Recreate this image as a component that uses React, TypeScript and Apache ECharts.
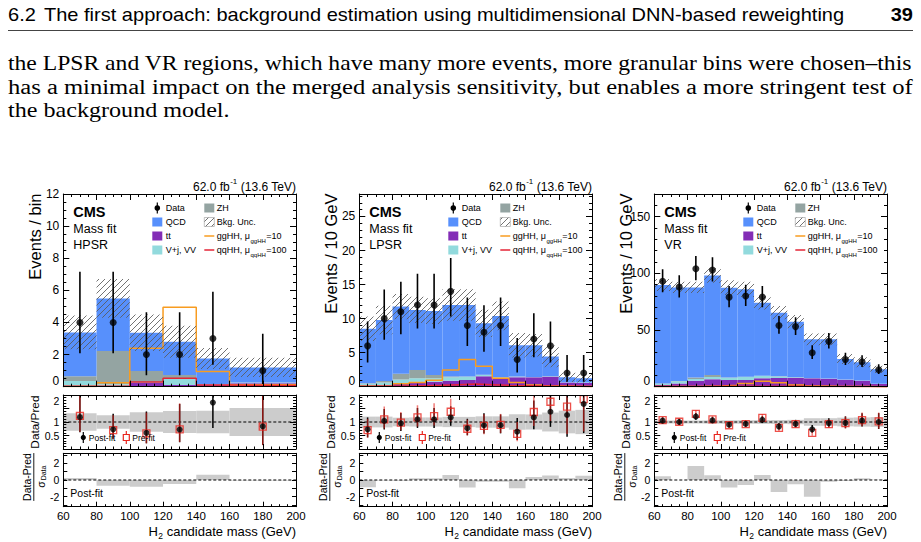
import React, { useEffect, useRef } from "react";
import * as echarts from "echarts";

// ---------------- data ----------------
const hpsrEdges = [60, 80, 100, 120, 140, 160, 200];
const hpsrCenters = [70, 90, 110, 130, 150, 180];
const fineEdges = [60, 70, 80, 90, 100, 110, 120, 130, 140, 150, 160, 170, 180, 190, 200];
const fineCenters = [65, 75, 85, 95, 105, 115, 125, 135, 145, 155, 165, 175, 185, 195];

// HPSR
const hpsrTtbar = [0.05, 0.05, 0.25, 0.1, 0.1, 0.22];
const hpsrVjVV = [0.3, 0.1, 0.05, 0.4, 0.02, 0.02];
const hpsrZH = [0.3, 2.07, 0.67, 0.23, 0.03, 0.02];
const hpsrQCD = [2.73, 3.28, 2.39, 2.07, 1.61, 0.94];
const hpsrUnc = [1.05, 1.2, 1.14, 1.0, 0.65, 0.6];
const hpsrGGHH = [0.02, 0.25, 2.4, 4.94, 0.95, 0.12];
const hpsrQQHH = [0.03, 0.05, 0.3, 0.52, 0.1, 0.08];
const hpsrData = [4, 4, 2, 2, 3, 1];
const hpsrDataLo = [2.09, 2.09, 0.71, 0.71, 1.37, 0.17];
const hpsrDataHi = [7.16, 7.16, 4.64, 4.64, 5.92, 3.3];
const hpsrRatioPost = [1.18, 0.73, 0.6, 0.72, 1.72, 0.84];
const hpsrRatioPostLo = [0.62, 0.38, 0.21, 0.25, 0.78, 0.15];
const hpsrRatioPostHi = [2.11, 1.31, 1.39, 1.67, 3.39, 2.77];
const hpsrRatioPre = [1.23, 0.7, 0.58, 0.73, null, 0.83];
const hpsrRatioPreLo = [0.64, 0.37, 0.21, 0.26, null, 0.14];
const hpsrRatioPreHi = [2.2, 1.25, 1.35, 1.69, null, 2.74];
const hpsrBand = [0.32, 0.25, 0.36, 0.41, 0.42, 0.52];
const hpsrPull = [0.25, -0.68, -0.8, -0.48, 0.64, -0.05];

// LPSR
const lpsrTtbar = [0.15, 0.2, 0.4, 0.74, 0.74, 0.88, 1.0, 1.55, 1.3, 1.37, 1.37, 1.45, 0.6, 0.55];
const lpsrVjVV = [0.3, 0.4, 0.65, 0.5, 0.49, 0.5, 0.45, 0.15, 0.1, 0.1, 0.05, 0.05, 0.05, 0.05];
const lpsrZH = [0.05, 0.25, 0.85, 1.22, 0.49, 0.1, 0.05, 0.05, 0.03, 0.02, 0.02, 0.02, 0.01, 0.01];
const lpsrQCD = [8.0, 8.95, 9.86, 8.81, 9.38, 10.52, 10.5, 7.55, 8.97, 4.61, 4.66, 2.93, 0.74, 0.64];
const lpsrUnc = [1.8, 2.1, 1.84, 1.93, 1.9, 2.3, 2.3, 2.0, 2.1, 1.8, 1.65, 1.6, 0.7, 0.65];
const lpsrGGHH = [0.05, 0.12, 0.45, 0.6, 0.95, 2.45, 4.0, 3.0, 1.25, 0.6, 0.25, 0.1, 0.05, 0.03];
const lpsrQQHH = [0.05, 0.05, 0.1, 0.15, 0.2, 0.3, 0.4, 0.3, 0.2, 0.15, 0.1, 0.05, 0.05, 0.03];
const lpsrData = [6, 10, 11, 12, 12, 14, 9, 8, 9, 4, 7, 6, 2, 2];
const lpsrDataLo = [3.57, 6.89, 7.7, 8.55, 8.55, 10.3, 5.96, 5.15, 5.96, 2.09, 4.34, 3.57, 0.71, 0.71];
const lpsrDataHi = [9.58, 14.27, 15.4, 16.6, 16.6, 18.9, 13.1, 11.98, 13.1, 7.16, 10.77, 9.58, 4.64, 4.64];
const lpsrRatioPost = [0.73, 1.04, 0.95, 1.1, 1.1, 1.17, 0.77, 0.88, 0.88, 0.64, 1.17, 1.38, 1.26, 1.67];
const lpsrRatioPostLo = [0.43, 0.72, 0.67, 0.78, 0.78, 0.86, 0.51, 0.57, 0.58, 0.33, 0.73, 0.82, 0.45, 0.59];
const lpsrRatioPostHi = [1.17, 1.48, 1.33, 1.52, 1.52, 1.58, 1.12, 1.32, 1.28, 1.15, 1.8, 2.2, 2.92, 3.87];
const lpsrRatioPre = [0.7, 1.1, 0.98, 1.17, 1.22, 1.38, 0.75, 0.86, 0.89, 0.56, 1.37, 1.75, 1.57, 1.85];
const lpsrRatioPreLo = [0.42, 0.76, 0.69, 0.83, 0.87, 1.02, 0.5, 0.55, 0.59, 0.29, 0.85, 1.04, 0.56, 0.65];
const lpsrRatioPreHi = [1.12, 1.57, 1.37, 1.62, 1.69, 1.86, 1.09, 1.29, 1.3, 1.0, 2.11, 2.79, 3.64, 4.29];
const lpsrBand = [0.2, 0.2, 0.16, 0.17, 0.17, 0.19, 0.19, 0.21, 0.21, 0.29, 0.28, 0.35, 0.42, 0.45];
const lpsrPull = [-0.88, -0.05, -0.1, 0.2, 0.2, 0.6, -0.9, -0.2, -0.2, -1.0, 0.35, 0.55, 0.25, 0.5];

// VR
const vrTtbar = [1.5, 2.9, 5.3, 6.5, 5.9, 5.9, 7.4, 7.6, 7.6, 7.4, 7.0, 6.2, 5.3, 2.4];
const vrVjVV = [1.2, 2.0, 1.5, 2.0, 2.0, 2.6, 2.2, 1.5, 0.6, 0.3, 0.2, 0.1, 0.1, 0.1];
const vrZH = [0.2, 0.1, 1.4, 1.8, 0.3, 0.3, 0.1, 0.1, 0.1, 0.05, 0.05, 0.05, 0.05, 0.05];
const vrQCD = [86.8, 82.6, 79.4, 87.7, 79.2, 77.1, 64.4, 56.1, 49.1, 34.05, 34.55, 18.05, 16.05, 12.75];
const vrUnc = [5.3, 5.0, 5.0, 6.4, 6.6, 6.7, 5.9, 5.9, 5.8, 5.2, 5.2, 4.4, 4.4, 3.2];
const vrGGHH = [0.1, 0.2, 0.4, 0.7, 1.2, 2.8, 4.8, 3.5, 1.5, 0.6, 0.3, 0.15, 0.1, 0.05];
const vrQQHH = [0.1, 0.15, 0.2, 0.3, 0.3, 0.4, 0.5, 0.4, 0.3, 0.2, 0.15, 0.1, 0.1, 0.05];
const vrData = [93, 88, 104, 103, 79, 80, 79, 54, 53, 30, 40, 24, 22, 15];
const vrDataLo = [83.4, 78.6, 93.8, 92.9, 70.1, 71.1, 70.1, 46.7, 45.7, 24.5, 33.7, 19.1, 17.3, 11.1];
const vrDataHi = [103.6, 98.4, 115.2, 114.2, 88.9, 89.9, 88.9, 62.4, 61.3, 36.5, 47.3, 29.9, 27.7, 19.9];
const vrRatioPost = [1.05, 1.0, 1.2, 1.06, 0.9, 0.93, 1.08, 0.83, 0.93, 0.73, 0.96, 0.97, 1.05, 1.0];
const vrRatioPostLo = [0.94, 0.89, 1.08, 0.96, 0.8, 0.83, 0.96, 0.72, 0.8, 0.6, 0.81, 0.77, 0.83, 0.74];
const vrRatioPostHi = [1.17, 1.12, 1.33, 1.18, 1.01, 1.05, 1.22, 0.96, 1.08, 0.89, 1.14, 1.21, 1.32, 1.33];
const vrRatioPre = [1.07, 1.01, 1.3, 1.1, 0.88, 0.92, 1.15, 0.78, 0.92, 0.6, 0.92, 0.96, 1.07, 1.02];
const vrRatioPreLo = [0.96, 0.9, 1.17, 0.99, 0.78, 0.82, 1.02, 0.67, 0.79, 0.49, 0.78, 0.76, 0.84, 0.75];
const vrRatioPreHi = [1.19, 1.13, 1.44, 1.22, 0.99, 1.03, 1.29, 0.9, 1.06, 0.73, 1.09, 1.2, 1.35, 1.35];
const vrBand = [0.055, 0.055, 0.055, 0.06, 0.065, 0.065, 0.07, 0.075, 0.08, 0.14, 0.14, 0.16, 0.17, 0.18];
const vrPull = [0.45, 0.0, 1.68, 0.56, -0.9, -0.6, 0.6, -1.44, -0.5, -2.0, -0.2, -0.12, 0.2, 0.02];

const pullTicks = [-3, -2, -1, 0, 1, 2, 3];
const pullLabels = [-2, 0, 2];

const headerText = "The first approach: background estimation using multidimensional DNN-based reweighting";
const paraLines = [
  "the LPSR and VR regions, which have many more events, more granular bins were chosen\u2013this",
  "has a minimal impact on the merged analysis sensitivity, but enables a more stringent test of",
  "the background model.",
];

const panels = [
  {
    region: "HPSR", ytitle: "Events / bin", ymax: 12, yint: 2, yminor: 4, showMax: true,
    edges: hpsrEdges, centers: hpsrCenters, tt: hpsrTtbar, vj: hpsrVjVV, zh: hpsrZH, qcd: hpsrQCD,
    unc: hpsrUnc, gg: hpsrGGHH, qq: hpsrQQHH, data: hpsrData, dlo: hpsrDataLo, dhi: hpsrDataHi,
    rPost: hpsrRatioPost, rPostLo: hpsrRatioPostLo, rPostHi: hpsrRatioPostHi,
    rPre: hpsrRatioPre, rPreLo: hpsrRatioPreLo, rPreHi: hpsrRatioPreHi, band: hpsrBand, pull: hpsrPull,
  },
  {
    region: "LPSR", ytitle: "Events / 10 GeV", ymax: 28.3, yint: 5, yminor: 5, showMax: false,
    edges: fineEdges, centers: fineCenters, tt: lpsrTtbar, vj: lpsrVjVV, zh: lpsrZH, qcd: lpsrQCD,
    unc: lpsrUnc, gg: lpsrGGHH, qq: lpsrQQHH, data: lpsrData, dlo: lpsrDataLo, dhi: lpsrDataHi,
    rPost: lpsrRatioPost, rPostLo: lpsrRatioPostLo, rPostHi: lpsrRatioPostHi,
    rPre: lpsrRatioPre, rPreLo: lpsrRatioPreLo, rPreHi: lpsrRatioPreHi, band: lpsrBand, pull: lpsrPull,
  },
  {
    region: "VR", ytitle: "Events / 10 GeV", ymax: 170, yint: 50, yminor: 5, showMax: false,
    edges: fineEdges, centers: fineCenters, tt: vrTtbar, vj: vrVjVV, zh: vrZH, qcd: vrQCD,
    unc: vrUnc, gg: vrGGHH, qq: vrQQHH, data: vrData, dlo: vrDataLo, dhi: vrDataHi,
    rPost: vrRatioPost, rPostLo: vrRatioPostLo, rPostHi: vrRatioPostHi,
    rPre: vrRatioPre, rPreLo: vrRatioPreLo, rPreHi: vrRatioPreHi, band: vrBand, pull: vrPull,
  },
];

// ---------------- styling / layout ----------------
const SANS = "Liberation Sans";
const SERIF = "Liberation Serif";
const C_QCD = "#5790fc";
const C_ZH = "#94a4a2";
const C_TT = "#832db6";
const C_VJ = "#92dadd";
const C_GG = "#f89c20";
const C_QQ = "#e42536";
const C_PRE = "#e8251e";
const C_BAND = "#cccccc";

const PL = [63.3, 359.3, 654.3];
const PW = 232.7;
const MAIN_TOP = 194, MAIN_H = 192.7;
const RAT_TOP = 395, RAT_H = 54;
const PULL_TOP = 453.3, PULL_H = 53.4;

const hatchSvg =
  "<svg xmlns='http://www.w3.org/2000/svg' width='6' height='6'>" +
  "<path d='M0,6 L6,0 M-1,1 L1,-1 M5,7 L7,5' stroke='#5a5a5a' stroke-width='0.85'/></svg>";
const HATCH: any = {
  image: "data:image/svg+xml;base64," + btoa(hatchSvg),
  repeat: "repeat",
  imageWidth: 6,
  imageHeight: 6,
};

let _ctx: any = null;
function tw(text: string, size: number, family = SANS, weight = "normal") {
  if (!_ctx) _ctx = document.createElement("canvas").getContext("2d");
  _ctx.font = `${weight} ${size}px "${family}"`;
  return _ctx.measureText(text).width;
}

function txt(text: string, x: number, y: number, size: number, o: any = {}) {
  const align = o.align || "left";
  const va = o.va || "middle";
  return {
    type: "text", x, y, z: 100, silent: true,
    rotation: o.rot || 0, scaleX: o.sx || 1, scaleY: 1,
    style: {
      text, fontSize: size, fontFamily: o.family || SANS, fontWeight: o.weight || "normal",
      fill: o.color || "#000", align, verticalAlign: va, textAlign: align, textVerticalAlign: va,
    },
  };
}
function gline(x1: number, y1: number, x2: number, y2: number, stroke: string, lw: number) {
  return { type: "line", z: 100, silent: true, shape: { x1, y1, x2, y2 }, style: { stroke, lineWidth: lw } };
}
function grect(x: number, y: number, w: number, h: number, fill: any, stroke?: string, lw = 1) {
  return {
    type: "rect", z: 100, silent: true, shape: { x, y, width: w, height: h },
    style: { fill, stroke: stroke || "none", lineWidth: lw },
  };
}
function gcircle(cx: number, cy: number, r: number, fill: string) {
  return { type: "circle", z: 100, silent: true, shape: { cx, cy, r }, style: { fill } };
}

// ---------------- series helpers ----------------
function rectSeries(ax: number, data: any[], fill: any, z: number) {
  return {
    type: "custom", xAxisIndex: ax, yAxisIndex: ax, data, z, silent: true, clip: true,
    encode: { x: [0, 1], y: [2, 3] },
    renderItem: (params: any, api: any) => {
      const ya = api.value(2), yb = api.value(3);
      const p0 = api.coord([api.value(0), Math.max(ya, yb)]);
      const p1 = api.coord([api.value(1), Math.min(ya, yb)]);
      return {
        type: "rect",
        shape: { x: p0[0], y: p0[1], width: p1[0] - p0[0], height: p1[1] - p0[1] },
        style: { fill, stroke: "none" },
      };
    },
  };
}
function vbarSeries(ax: number, data: any[], stroke: string, width: number, z: number, opacity = 1) {
  return {
    type: "custom", xAxisIndex: ax, yAxisIndex: ax, data, z, silent: true, clip: true,
    encode: { x: 0, y: [1, 2] },
    renderItem: (params: any, api: any) => {
      const a = api.coord([api.value(0), api.value(1)]);
      const b = api.coord([api.value(0), api.value(2)]);
      return {
        type: "line",
        shape: { x1: a[0], y1: a[1], x2: b[0], y2: b[1] },
        style: { stroke, lineWidth: width, opacity },
      };
    },
  };
}
function stepSeries(ax: number, edges: number[], vals: number[], color: string, z: number) {
  const data: any[] = vals.map((v, i) => [edges[i], v]);
  data.push([edges[edges.length - 1], vals[vals.length - 1]]);
  return {
    type: "line", xAxisIndex: ax, yAxisIndex: ax, data, step: "end", symbol: "none", showSymbol: false,
    lineStyle: { color, width: 1.5 }, z, silent: true, clip: true,
  };
}
function refLine(ax: number, y: number, z: number) {
  return {
    type: "line", xAxisIndex: ax, yAxisIndex: ax, data: [[60, y], [200, y]], symbol: "none",
    lineStyle: { color: "#000", width: 1, type: [3, 2] }, z, silent: true,
  };
}

function buildOption() {
  const grid: any[] = [], xAxis: any[] = [], yAxis: any[] = [], series: any[] = [], graphic: any[] = [];

  panels.forEach((P: any, p: number) => {
    const L = PL[p], R = L + PW;
    const rows = [
      { top: MAIN_TOP, height: MAIN_H, ymin: 0, ymax: P.ymax, yint: P.yint, yminor: P.yminor, ls: 12, showMax: P.showMax, xt: 6, vMin: "bottom", vMax: "middle" },
      { top: RAT_TOP, height: RAT_H, ymin: 0, ymax: 2, yint: 0.5, yminor: 5, ls: 10.5, showMax: true, xt: 5, vMin: "bottom", vMax: "top" },
      { top: PULL_TOP, height: PULL_H, ymin: -3.2, ymax: 3.2, custom: true, ls: 10.5, xt: 5 },
    ];
    rows.forEach((r: any, s: number) => {
      const g = p * 3 + s;
      grid.push({ left: L, top: r.top, width: PW, height: r.height, show: false, outerBoundsMode: "none", containLabel: false });
      const xb: any = {
        type: "value", gridIndex: g, min: 60, max: 200, interval: 20, z: 10,
        axisLine: { show: true, onZero: false, lineStyle: { color: "#000", width: 1 } },
        axisTick: { show: true, inside: true, length: r.xt, lineStyle: { color: "#000", width: 1 } },
        minorTick: { show: true, splitNumber: 4, length: r.xt / 2, lineStyle: { color: "#000", width: 1 } },
        splitLine: { show: false }, minorSplitLine: { show: false },
      };
      xAxis.push({
        ...xb, position: "bottom",
        axisLabel: { show: s === 2, color: "#000", fontSize: 11.5, fontFamily: SANS, margin: 3 },
      });
      xAxis.push({ ...xb, position: "top", axisLabel: { show: false } });

      const yb: any = {
        type: "value", gridIndex: g, min: r.ymin, max: r.ymax, z: 10,
        axisLine: { show: true, onZero: false, lineStyle: { color: "#000", width: 1 } },
        splitLine: { show: false }, minorSplitLine: { show: false },
      };
      let lab: any = { show: true, color: "#000", fontSize: r.ls, fontFamily: SANS, margin: 4 };
      if (r.custom) {
        yb.axisTick = { show: true, inside: true, length: 4, customValues: pullTicks, lineStyle: { color: "#000" } };
        yb.minorTick = { show: false };
        lab = { ...lab, customValues: pullLabels };
      } else {
        yb.interval = r.yint;
        yb.axisTick = { show: true, inside: true, length: 6, lineStyle: { color: "#000" } };
        yb.minorTick = { show: true, splitNumber: r.yminor, length: 3, lineStyle: { color: "#000" } };
        lab = { ...lab, showMaxLabel: r.showMax, verticalAlignMinLabel: r.vMin, verticalAlignMaxLabel: r.vMax };
      }
      yAxis.push({ ...yb, position: "left", axisLabel: lab });
      yAxis.push({ ...yb, position: "right", axisLabel: { show: false } });
    });

    const am = p * 6, ar = p * 6 + 2, ap = p * 6 + 4; // axis indices for main/ratio/pull
    const E = P.edges;

    // stacked backgrounds
    const totals = P.tt.map(() => 0);
    [[P.tt, C_TT], [P.vj, C_VJ], [P.zh, C_ZH], [P.qcd, C_QCD]].forEach(([vals, col]: any, k: number) => {
      const data = vals.map((v: number, i: number) => {
        const d = [E[i], E[i + 1], totals[i], totals[i] + v];
        totals[i] += v;
        return d;
      });
      series.push(rectSeries(am, data, col, 2 + k * 0.01));
    });
    // signals
    series.push(stepSeries(am, E, P.gg, C_GG, 3));
    series.push(stepSeries(am, E, P.qq, C_QQ, 3.1));
    // uncertainty hatch
    series.push(rectSeries(am, totals.map((t: number, i: number) => [E[i], E[i + 1], t - P.unc[i], t + P.unc[i]]), HATCH, 3.5));
    // data
    series.push(vbarSeries(am, P.centers.map((c: number, i: number) => [c, P.dlo[i], P.dhi[i]]), "#000", 1.6, 5));
    series.push({
      type: "scatter", xAxisIndex: am, yAxisIndex: am, silent: true, z: 6,
      data: P.centers.map((c: number, i: number) => [c, P.data[i]]),
      symbol: "circle", symbolSize: 7, itemStyle: { color: "#000" },
    });

    // ratio
    series.push(rectSeries(ar, P.band.map((b: number, i: number) => [E[i], E[i + 1], 1 - b, 1 + b]), C_BAND, 2));
    series.push(refLine(ar, 1, 3));
    series.push(vbarSeries(ar, P.centers.map((c: number, i: number) => [c, P.rPostLo[i], P.rPostHi[i]]), "#000", 1.5, 4));
    const preIdx = P.centers.map((c: number, i: number) => i).filter((i: number) => P.rPre[i] != null);
    series.push(vbarSeries(ar, preIdx.map((i: number) => [P.centers[i], P.rPreLo[i], P.rPreHi[i]]), C_PRE, 1.5, 4.5, 0.6));
    series.push({
      type: "scatter", xAxisIndex: ar, yAxisIndex: ar, silent: true, z: 5,
      data: preIdx.map((i: number) => [P.centers[i], P.rPre[i]]),
      symbol: "rect", symbolSize: 7,
      itemStyle: { color: "rgba(255,255,255,0)", borderColor: C_PRE, borderWidth: 1.3 },
    });
    series.push({
      type: "scatter", xAxisIndex: ar, yAxisIndex: ar, silent: true, z: 6,
      data: P.centers.map((c: number, i: number) => [c, P.rPost[i]]),
      symbol: "circle", symbolSize: 6, itemStyle: { color: "#000" },
    });

    // pull
    series.push(rectSeries(ap, P.pull.map((v: number, i: number) => [E[i], E[i + 1], 0, v]), C_BAND, 2));
    series.push(refLine(ap, 0, 3));

    // ---- texts / legends ----
    const s12 = 12, s8 = 8;
    const t3 = "(13.6 TeV)";
    const w3 = tw(t3, s12), wsp = tw(" ", s12), wsup = tw("-1", s8);
    graphic.push(txt(t3, R, 186.5, s12, { align: "right" }));
    graphic.push(txt("-1", R - w3 - wsp, 181.5, s8, { align: "right" }));
    graphic.push(txt("62.0 fb", R - w3 - wsp - wsup - 0.5, 186.5, s12, { align: "right" }));

    graphic.push(txt("CMS", L + 10, 211.5, 14.5, { weight: "bold" }));
    graphic.push(txt("Mass fit", L + 10, 229, 12.5));
    graphic.push(txt(P.region, L + 10, 244.5, 12.5));

    const c1 = L + 89, c2 = L + 141, t1x = L + 102.5, t2x = L + 153.5;
    const ry = [208, 222, 236, 250];
    const fs = 9;
    graphic.push(gline(c1 + 5, ry[0] - 5.5, c1 + 5, ry[0] + 5.5, "#000", 1.2));
    graphic.push(gcircle(c1 + 5, ry[0], 2.8, "#000"));
    graphic.push(txt("Data", t1x, ry[0], fs));
    graphic.push(grect(c1, ry[1] - 4.5, 10, 9, C_QCD));
    graphic.push(txt("QCD", t1x, ry[1], fs));
    graphic.push(grect(c1, ry[2] - 4.5, 10, 9, C_TT));
    graphic.push(txt("tt", t1x, ry[2], fs));
    graphic.push(grect(c1, ry[3] - 4.5, 10, 9, C_VJ));
    graphic.push(txt("V+j, VV", t1x, ry[3], fs));
    graphic.push(grect(c2, ry[0] - 4.5, 10, 9, C_ZH));
    graphic.push(txt("ZH", t2x, ry[0], fs));
    graphic.push(grect(c2, ry[1] - 4.5, 10, 9, HATCH, "#999", 0.6));
    graphic.push(txt("Bkg. Unc.", t2x, ry[1], fs));
    [["ggHH, \u03bc", "ggHH", "=10", C_GG, ry[2]], ["qqHH, \u03bc", "qqHH", "=100", C_QQ, ry[3]]].forEach(
      ([a, sub, b, col, y]: any) => {
        graphic.push(gline(c2, y, c2 + 10, y, col, 1.5));
        const wa = tw(a, fs), wsub = tw(sub, 6);
        graphic.push(txt(a, t2x, y - 0.5, fs));
        graphic.push(txt(sub, t2x + wa + 0.5, y + 4.5, 6));
        graphic.push(txt(b, t2x + wa + wsub + 1, y - 0.5, fs));
      }
    );

    // y titles
    graphic.push(txt(P.ytitle, L - 28.5, 193.5, 16.5, { rot: Math.PI / 2, align: "right" }));
    graphic.push(txt("Data/Pred", L - 28, 395.5, 11.8, { rot: Math.PI / 2, align: "right" }));
    const wnum = tw("Data-Pred", 10.5), wsig = tw("\u03c3", 10.5), wD = tw("Data", 7);
    graphic.push({
      type: "group", x: L - 29.5, y: 477, rotation: Math.PI / 2, z: 100, silent: true,
      children: [
        txt("Data-Pred", 0, -1.5, 10.5, { align: "center", va: "bottom" }),
        gline(-wnum / 2, 0, wnum / 2, 0, "#000", 0.9),
        txt("\u03c3", -(wsig + wD) / 2, 1.5, 10.5, { va: "top" }),
        txt("Data", -(wsig + wD) / 2 + wsig + 0.8, 6.5, 7, { va: "top" }),
      ],
    });

    // ratio legend
    const ly = 437.5;
    graphic.push(gline(L + 20, ly - 5.5, L + 20, ly + 5.5, "#000", 1.2));
    graphic.push(gcircle(L + 20, ly, 2.6, "#000"));
    graphic.push(txt("Post-fit", L + 25.5, ly, 8.5));
    graphic.push(gline(L + 63, ly - 6.5, L + 63, ly - 3, C_PRE, 1.2));
    graphic.push(gline(L + 63, ly + 3, L + 63, ly + 6.5, C_PRE, 1.2));
    graphic.push(grect(L + 60, ly - 3, 6, 6, "none", C_PRE, 1.2));
    graphic.push(txt("Pre-fit", L + 69, ly, 8.5));

    // pull label
    graphic.push(txt("Post-fit", L + 7, 493, 10.5));

    // x title
    const xs = 13, xsub = 8.5;
    const ty = 531.5;
    const tmain = "candidate mass (GeV)";
    const wm = tw(tmain, xs), wsp2 = tw(" ", xs), w2 = tw("2", xsub);
    graphic.push(txt(tmain, R, ty, xs, { align: "right" }));
    graphic.push(txt("2", R - wm - wsp2, ty + 4, xsub, { align: "right" }));
    graphic.push(txt("H", R - wm - wsp2 - w2 - 0.5, ty - 0.5, xs, { align: "right" }));
  });

  // page header & paragraph
  const hs = 18;
  const hsx = (845 - 44) / tw(headerText, hs);
  graphic.push(txt("6.2", 8, 15, hs, { sx: hsx }));
  graphic.push(txt(headerText, 44, 15, hs, { sx: hsx }));
  graphic.push(txt("39", 913, 15, hs, { align: "right", weight: "bold", sx: hsx }));
  graphic.push(gline(8, 30.5, 913, 30.5, "#444", 1));
  const ps = 20;
  const sx1 = 905 / tw(paraLines[0], ps, SERIF);
  const sx2 = 905 / tw(paraLines[1], ps, SERIF);
  graphic.push(txt(paraLines[0], 8, 63, ps, { family: SERIF, sx: sx1 }));
  graphic.push(txt(paraLines[1], 8, 87, ps, { family: SERIF, sx: sx2 }));
  graphic.push(txt(paraLines[2], 8, 110, ps, { family: SERIF, sx: (sx1 + sx2) / 2 }));

  return {
    animation: false,
    backgroundColor: "#ffffff",
    grid, xAxis, yAxis, series,
    graphic: { elements: graphic },
  };
}

export default function App() {
  const ref = useRef<HTMLDivElement>(null);
  useEffect(() => {
    if (!ref.current) return;
    const chart = echarts.init(ref.current, null, { renderer: "svg", width: 921, height: 542 });
    chart.setOption(buildOption() as any);
    return () => chart.dispose();
  }, []);
  return (
    <div
      ref={ref}
      style={{ position: "absolute", left: 0, top: 0, width: 921, height: 542, background: "#fff" }}
    />
  );
}
